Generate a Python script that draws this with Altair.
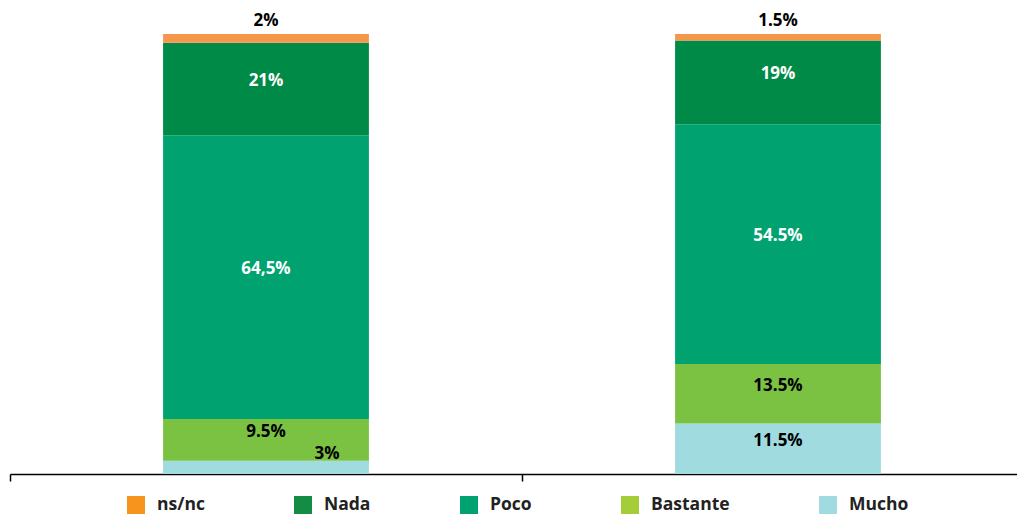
import altair as alt
import pandas as pd

groups = ["Grupo 1", "Grupo 2"]
categories = ["Mucho", "Bastante", "Poco", "Nada", "ns/nc"]
values_g1 = [3, 9.5, 64.5, 21, 2]
values_g2 = [11.5, 13.5, 54.5, 19, 1.5]
labels_g1 = ["3%", "9.5%", "64,5%", "21%", "2%"]
labels_g2 = ["11.5%", "13.5%", "54.5%", "19%", "1.5%"]

legend_order = ["ns/nc", "Nada", "Poco", "Bastante", "Mucho"]
bar_colors = {"ns/nc": "#F6964A", "Nada": "#008A47", "Poco": "#00A370",
              "Bastante": "#7BC242", "Mucho": "#A0DBDF"}
legend_colors = {"ns/nc": "#F7941E", "Nada": "#138D43", "Poco": "#00A370",
                 "Bastante": "#A5CD39", "Mucho": "#A0DBDF"}

rows = []
for g, vals, labs in [(groups[0], values_g1, labels_g1), (groups[1], values_g2, labels_g2)]:
    for i, (c, v, l) in enumerate(zip(categories, vals, labs)):
        rows.append({"group": g, "cat": c, "value": v, "label": l, "ord": i})
df = pd.DataFrame(rows)

FONT = "Open Sans"

base = alt.Chart(df).transform_stack(
    stack="value", groupby=["group"], as_=["y0", "y1"],
    sort=[alt.SortField("ord", order="ascending")]
).transform_calculate(mid="(datum.y0 + datum.y1) / 2")

xscale = alt.Scale(paddingInner=0, paddingOuter=0, range=[0, 1024])
xenc = alt.X("group:N", sort=groups, scale=xscale,
             axis=alt.Axis(title=None, labels=False, tickBand="extent", tickSize=7,
                           domainColor="#000000", tickColor="#000000",
                           domainWidth=1.5, tickWidth=1.5, grid=False))
xplain = alt.X("group:N", sort=groups, scale=xscale)
yscale = alt.Scale(domain=[0, 100], nice=False)

bars = base.mark_bar(width=alt.RelativeBandSize(0.402)).encode(
    x=xenc,
    y=alt.Y("y0:Q", scale=yscale, axis=None),
    y2="y1:Q",
    fill=alt.Fill("cat:N", scale=alt.Scale(domain=list(bar_colors.keys()),
                                           range=list(bar_colors.values())), legend=None),
)

txt_kw = dict(font=FONT, fontWeight="bold", fontSize=17, baseline="middle", align="center")

inner_white = base.transform_filter(
    alt.FieldOneOfPredicate(field="cat", oneOf=["Nada", "Poco"])
).mark_text(color="#FFFFFF", dy=-8, **txt_kw).encode(
    x=xplain, y=alt.Y("mid:Q", scale=yscale), text="label:N")

inner_black = base.transform_filter(
    "(datum.cat == 'Bastante') || (datum.cat == 'Mucho' && datum.value >= 5)"
).mark_text(color="#000000", dy=-8, **txt_kw).encode(
    x=xplain, y=alt.Y("mid:Q", scale=yscale), text="label:N")

small_mucho = base.transform_filter(
    "datum.cat == 'Mucho' && datum.value < 5"
).mark_text(color="#000000", dx=61, dy=-7, **txt_kw).encode(
    x=xplain, y=alt.Y("y1:Q", scale=yscale), text="label:N")

top_lbl = base.transform_filter(
    "datum.cat == 'ns/nc'"
).mark_text(color="#000000", dy=-13, **txt_kw).encode(
    x=xplain, y=alt.Y("y1:Q", scale=yscale), text="label:N")

legend_layer = base.mark_square(size=324, opacity=0).encode(
    x=xplain,
    y=alt.Y("y1:Q", scale=yscale),
    color=alt.Color("cat:N",
                    scale=alt.Scale(domain=legend_order,
                                    range=[legend_colors[c] for c in legend_order]),
                    legend=alt.Legend(title=None, orient="none", direction="horizontal",
                                      legendX=117, legendY=462,
                                      symbolType="square", symbolSize=324,
                                      symbolStrokeWidth=0, symbolOpacity=1,
                                      labelFont=FONT, labelFontSize=17.5,
                                      labelFontWeight="bold", labelColor="#222222",
                                      labelOffset=12, columnPadding=89)),
)

chart = alt.layer(bars, inner_white, inner_black, small_mucho, top_lbl, legend_layer).resolve_scale(
    fill="independent", color="independent"
).properties(
    width=1007, height=440,
    padding={"left": 2, "top": 26, "right": 0, "bottom": 42},
    autosize=alt.AutoSizeParams(type="none"),
).configure(font=FONT).configure_view(stroke=None)

chart.save("out.html", embed_options={"renderer": "svg", "actions": False})
